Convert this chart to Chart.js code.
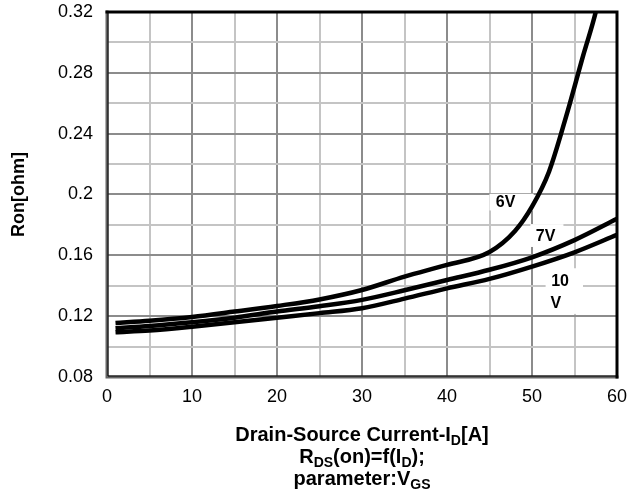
<!DOCTYPE html>
<html>
<head>
<meta charset="utf-8">
<script src="https://cdn.jsdelivr.net/npm/chart.js@4"></script>
<style>
  html, body { margin: 0; padding: 0; background: #fff; }
  #wrap { width: 629px; height: 502px; }
</style>
</head>
<body>
<div id="wrap"><canvas id="ronChart"></canvas></div>
<script>
// Drain current [A] and on-resistance [ohm] for each gate voltage
const current6V = [1, 5, 10, 15, 20, 25, 30, 35, 40, 45, 48, 50, 52, 54, 56, 57.5, 58];
const ron6V = [0.1155, 0.117, 0.1195, 0.123, 0.1267, 0.131, 0.1372, 0.146, 0.1537, 0.1622, 0.176, 0.192, 0.215, 0.251, 0.291, 0.32, 0.333];

const current7V = [1, 5, 10, 15, 20, 25, 30, 35, 40, 45, 50, 55, 60];
const ron7V = [0.112, 0.1135, 0.116, 0.119, 0.123, 0.1265, 0.1307, 0.137, 0.1438, 0.1505, 0.1587, 0.170, 0.184];

const current10V = [1, 5, 10, 15, 20, 25, 30, 35, 40, 45, 50, 55, 60];
const ron10V = [0.1094, 0.1105, 0.113, 0.116, 0.119, 0.122, 0.1252, 0.1315, 0.1383, 0.1445, 0.1526, 0.162, 0.1735];

// curve labels, placed in data units
const curveLabels = ['6V', '7V', '10', 'V'];
const curveLabelX = [46.9, 51.6, 53.3, 52.8];
const curveLabelY = [0.195, 0.1725, 0.1427, 0.1285];

const toPoints = (xs, ys) => xs.map((x, i) => ({x: x, y: ys[i]}));

const FONT = '"Liberation Sans", Arial, sans-serif';

// white boxes behind the curve labels, then the text
const labelPlugin = {
    id: 'curveLabels',
    beforeDatasetsDraw(chart) {
        const ctx = chart.ctx;
        const xs = chart.scales.x, ys = chart.scales.y;
        const boxes = [
            {x0: 45.0, x1: 50.2, y0: 0.2005, y1: 0.1895},
            {x0: 49.8, x1: 53.7, y0: 0.1805, y1: 0.1655},
            {x0: 51.6, x1: 56.0, y0: 0.1515, y1: 0.1215}
        ];
        ctx.save();
        ctx.fillStyle = '#fff';
        boxes.forEach(b => {
            const l = xs.getPixelForValue(b.x0), r = xs.getPixelForValue(b.x1);
            const t = ys.getPixelForValue(b.y0), bt = ys.getPixelForValue(b.y1);
            ctx.fillRect(l, t, r - l, bt - t);
        });
        ctx.fillStyle = '#000';
        ctx.font = 'bold 16px ' + FONT;
        ctx.textAlign = 'center';
        ctx.textBaseline = 'middle';
        curveLabels.forEach((txt, i) => {
            ctx.fillText(txt, xs.getPixelForValue(curveLabelX[i]), ys.getPixelForValue(curveLabelY[i]));
        });
        ctx.restore();
    }
};

// frame: gray left/bottom, heavy black top/right
const framePlugin = {
    id: 'frame',
    afterDatasetsDraw(chart) {
        const {left, right, top, bottom} = chart.chartArea;
        const ctx = chart.ctx;
        ctx.save();
        ctx.lineCap = 'square';
        ctx.strokeStyle = '#666';
        ctx.lineWidth = 3;
        ctx.beginPath();
        ctx.moveTo(left, top);
        ctx.lineTo(left, bottom);
        ctx.lineTo(right, bottom);
        ctx.stroke();
        ctx.strokeStyle = '#000';
        ctx.lineWidth = 1;
        ctx.beginPath();
        ctx.moveTo(left + 1, top);
        ctx.lineTo(left + 1, bottom - 1);
        ctx.lineTo(right, bottom - 1);
        ctx.stroke();
        ctx.lineWidth = 3;
        ctx.beginPath();
        ctx.moveTo(left, top);
        ctx.lineTo(right, top);
        ctx.lineTo(right, bottom);
        ctx.stroke();
        ctx.restore();
    }
};

// x-axis caption with subscripts
function drawRich(ctx, parts, cx, cy) {
    const main = 'bold 20px ' + FONT, sub = 'bold 14px ' + FONT;
    let width = 0;
    parts.forEach(p => {
        ctx.font = p[1] ? sub : main;
        width += ctx.measureText(p[0]).width;
    });
    let x = cx - width / 2;
    parts.forEach(p => {
        ctx.font = p[1] ? sub : main;
        ctx.fillText(p[0], x, p[1] ? cy + 6 : cy);
        x += ctx.measureText(p[0]).width;
    });
}

const captionPlugin = {
    id: 'caption',
    afterDraw(chart) {
        const ctx = chart.ctx;
        const cx = (chart.chartArea.left + chart.chartArea.right) / 2;
        ctx.save();
        ctx.fillStyle = '#000';
        ctx.textAlign = 'left';
        ctx.textBaseline = 'middle';
        drawRich(ctx, [['Drain-Source Current-I', false], ['D', true], ['[A]', false]], cx, 435);
        drawRich(ctx, [['R', false], ['DS', true], ['(on)=f(I', false], ['D', true], [');', false]], cx, 457);
        drawRich(ctx, [['parameter:V', false], ['GS', true]], cx, 479);
        ctx.restore();
    }
};

const lineStyle = {
    borderColor: '#000',
    borderWidth: 4.5,
    pointRadius: 0,
    fill: false,
    tension: 0.3,
    cubicInterpolationMode: 'monotone',
    clip: 0
};

new Chart(
    document.getElementById('ronChart'),
    {
        type: 'line',
        data: {
            datasets: [
                Object.assign({label: '6V', data: toPoints(current6V, ron6V)}, lineStyle),
                Object.assign({label: '7V', data: toPoints(current7V, ron7V)}, lineStyle),
                Object.assign({label: '10V', data: toPoints(current10V, ron10V)}, lineStyle)
            ]
        },
        options: {
            responsive: true,
            maintainAspectRatio: false,
            animation: false,
            layout: {padding: {top: 12, right: 12, left: 8, bottom: 0}},
            plugins: {
                legend: {display: false},
                tooltip: {enabled: false}
            },
            scales: {
                x: {
                    type: 'linear',
                    min: 0,
                    max: 60,
                    // fixed height, no extra room for the end labels
                    afterFit: (s) => { s.height = 125; s.paddingLeft = 0; s.paddingRight = 0; },
                    border: {display: false},
                    grid: {
                        drawTicks: false,
                        lineWidth: 2,
                        color: (c) => c.tick && c.tick.value % 10 === 0 ? '#8c8c8c' : '#c4c4c4'
                    },
                    ticks: {
                        stepSize: 5,
                        padding: 9,
                        color: '#000',
                        font: {family: FONT, size: 18},
                        callback: (v) => v % 10 === 0 ? String(v) : ''
                    }
                },
                y: {
                    min: 0.08,
                    max: 0.32,
                    afterFit: (s) => { s.width = 99; s.paddingTop = 0; s.paddingBottom = 0; },
                    border: {display: false},
                    title: {
                        display: true,
                        text: 'Ron[ohm]',
                        color: '#000',
                        font: {family: FONT, size: 18, weight: 'bold'},
                        padding: {top: 0, bottom: 0}
                    },
                    grid: {
                        drawTicks: false,
                        lineWidth: 2,
                        color: (c) => c.tick && Math.round(c.tick.value * 100) % 4 === 0 ? '#8c8c8c' : '#c4c4c4'
                    },
                    ticks: {
                        stepSize: 0.02,
                        padding: 14,
                        color: '#000',
                        font: {family: FONT, size: 18},
                        callback: (v) => Math.round(v * 100) % 4 === 0 ? String(+v.toFixed(2)) : ''
                    }
                }
            }
        },
        plugins: [labelPlugin, framePlugin, captionPlugin]
    }
)
</script>
</body>
</html>
